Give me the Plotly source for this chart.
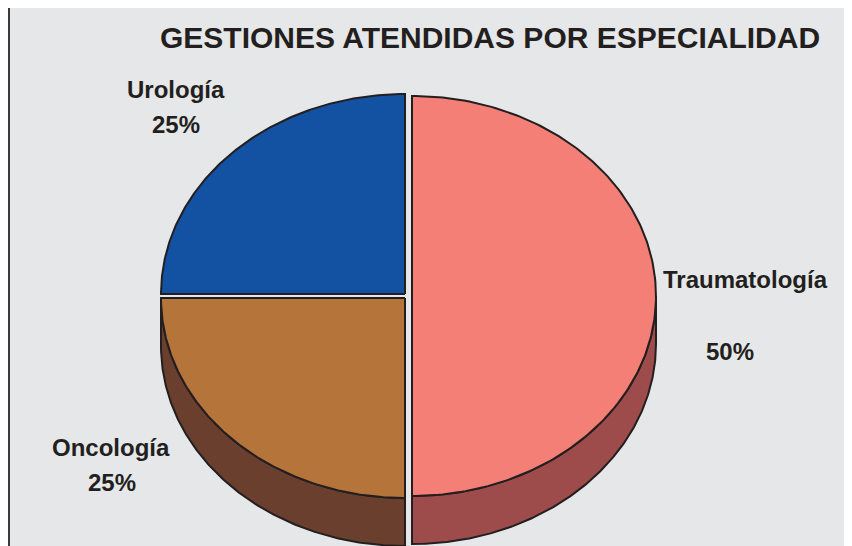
import numpy as np
import plotly.graph_objects as go

# ---- data ----
title_text = "GESTIONES ATENDIDAS POR ESPECIALIDAD"
categories = ["Traumatología", "Oncología", "Urología"]
values = [50, 25, 25]

# ---- style ----
top_colors = {"Traumatología": "#f47f76", "Oncología": "#b57439", "Urología": "#1351a3"}
side_colors = {"Traumatología": "#9d4b4b", "Oncología": "#6b3f2d", "Urología": "#0b3470"}
explode = {"Traumatología": (7, 0), "Oncología": (0, 2), "Urología": (0, -2)}
outline = "#231f20"
bg = "#e6e7e8"
W, H = 852, 546
OFF = 8  # page body margin offset
cx, cy, rx, ry, depth = 405, 296, 244, 200, 48
start_deg = 90  # first slice starts at 12 o'clock, clockwise

label_pos = {
    "Traumatología": [(745, 279), (730, 351)],
    "Oncología": [(111, 447), (112, 482)],
    "Urología": [(176, 89), (176, 124)],
}
font_family = "Liberation Sans, Arial, sans-serif"

fig = go.Figure()

total = float(sum(values))
angles = []
a = start_deg
for v in values:
    sweep = 360.0 * v / total
    angles.append((a, a - sweep))
    a -= sweep

def ellipse_pts(t0, t1, ox, oy, dz=0, n=200):
    t = np.radians(np.linspace(t0, t1, n))
    return ox + rx * np.cos(t), oy - ry * np.sin(t) + dz

# side walls (front half only)
for cat, (a0, a1) in zip(categories, angles):
    ox, oy = cx + explode[cat][0], cy + explode[cat][1]
    hi, lo = max(a0, a1), min(a0, a1)
    segs = []
    for shift in (0, -360, 360):
        s0, s1 = max(lo + shift, -180), min(hi + shift, 0)
        if s1 > s0:
            segs.append((s0, s1))
    for s0, s1 in segs:
        xt, yt = ellipse_pts(s0, s1, ox, oy)
        xb, yb = ellipse_pts(s1, s0, ox, oy, dz=depth)
        xs = np.concatenate([xt, xb, xt[:1]])
        ys = np.concatenate([yt, yb, yt[:1]])
        fig.add_trace(go.Scatter(x=xs, y=ys, mode="lines", fill="toself",
                                 fillcolor=side_colors[cat],
                                 line=dict(color=outline, width=2),
                                 hoverinfo="skip", showlegend=False))

# top faces
for cat, (a0, a1) in zip(categories, angles):
    ox, oy = cx + explode[cat][0], cy + explode[cat][1]
    xa, ya = ellipse_pts(a0, a1, ox, oy)
    xs = np.concatenate([[ox], xa, [ox]])
    ys = np.concatenate([[oy], ya, [oy]])
    fig.add_trace(go.Scatter(x=xs, y=ys, mode="lines", fill="toself",
                             fillcolor=top_colors[cat],
                             line=dict(color=outline, width=2),
                             name=cat, hoverinfo="name", showlegend=False))

annotations = [dict(text=f"<b>{title_text}</b>", x=490, y=37, xref="x", yref="y",
                    showarrow=False, xanchor="center", yanchor="middle",
                    font=dict(family=font_family, size=30, color="#231f20"))]
for cat, v in zip(categories, values):
    (nx, ny), (px, py) = label_pos[cat]
    pct = f"{round(100 * v / total)}%"
    for txt, x, y in ((cat, nx, ny), (pct, px, py)):
        annotations.append(dict(text=f"<b>{txt}</b>", x=x, y=y, xref="x", yref="y",
                                showarrow=False, xanchor="center", yanchor="middle",
                                font=dict(family=font_family, size=24, color="#231f20")))

fig.update_layout(
    width=W, height=H,
    margin=dict(l=0, r=0, t=0, b=0),
    paper_bgcolor="white", plot_bgcolor="white",
    xaxis=dict(range=[OFF, W + OFF], visible=False, fixedrange=True),
    yaxis=dict(range=[H + OFF, OFF], visible=False, fixedrange=True),
    shapes=[dict(type="rect", xref="x", yref="y", x0=9, y0=7, x1=W + 20, y1=H + 20,
                 fillcolor=bg, line=dict(color="#3a3a3a", width=2), layer="below")],
    annotations=annotations,
)

fig.write_html("out.html")
